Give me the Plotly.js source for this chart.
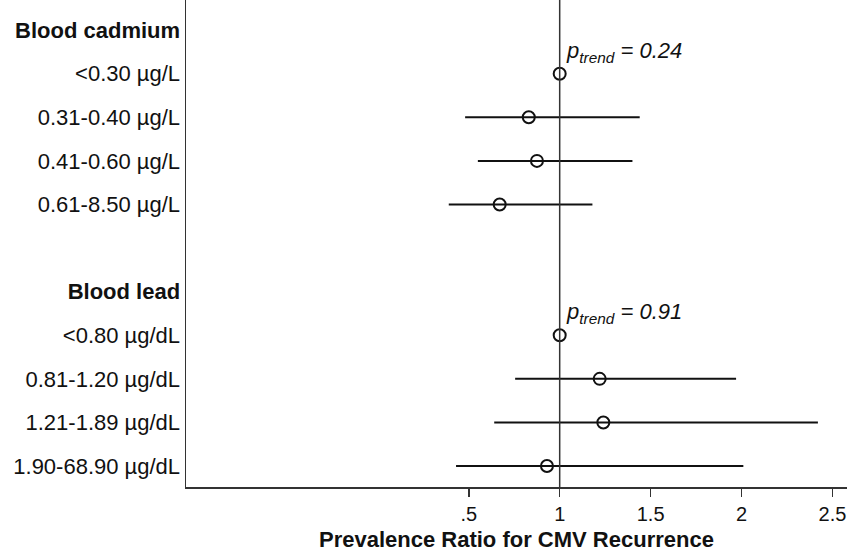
<!DOCTYPE html>
<html>
<head>
<meta charset="utf-8">
<script src="https://cdn.plot.ly/plotly-3.0.1.min.js"></script>
<style>html,body{margin:0;padding:0;background:#fff;}#chart{width:847px;height:552px;}</style>
</head>
<body>
<div id="chart"></div>
<script>
// Row labels (top to bottom)
const rowLabels = ["<b>Blood cadmium</b>", "<0.30 µg/L", "0.31-0.40 µg/L", "0.41-0.60 µg/L", "0.61-8.50 µg/L", "",
                   "<b>Blood lead</b>", "<0.80 µg/dL", "0.81-1.20 µg/dL", "1.21-1.89 µg/dL", "1.90-68.90 µg/dL"];
// Estimates: row index, prevalence ratio, lower CI, upper CI
const estRows  = [1, 2, 3, 4, 7, 8, 9, 10];
const estPR    = [1.00, 0.83, 0.875, 0.67, 1.00, 1.22, 1.24, 0.93];
const estLower = [1.00, 0.48, 0.55, 0.39, 1.00, 0.755, 0.64, 0.43];
const estUpper = [1.00, 1.44, 1.40, 1.18, 1.00, 1.97, 2.42, 2.01];
// Trend p-values, placed near the reference row of each group
const trendRows = [1, 7];
const trendP = ["0.24", "0.91"];
const xTickVals = [0.5, 1, 1.5, 2, 2.5];
const xTickText = [".5", "1", "1.5", "2", "2.5"];
const xTitle = "Prevalence Ratio for CMV Recurrence";

const rowIdx = rowLabels.map((_, i) => i);
const FONT = "Liberation Sans, Arial, sans-serif";

const trace = {
  type: "scatter",
  mode: "markers",
  x: estPR,
  y: estRows,
  marker: {symbol: "circle-open", size: 12, color: "#111", line: {width: 2, color: "#111"}},
  error_x: {
    type: "data", symmetric: false,
    array: estUpper.map((u, i) => u - estPR[i]),
    arrayminus: estLower.map((l, i) => estPR[i] - l),
    width: 0, thickness: 2, color: "#111"
  },
  showlegend: false,
  hoverinfo: "x+y"
};

const annotations = trendRows.map((r, i) => ({
  x: 1, y: r - 0.5, xref: "x", yref: "y",
  text: "<i>p<sub>trend</sub> = " + trendP[i] + "</i>",
  showarrow: false, xanchor: "left", yanchor: "middle", xshift: 4,
  font: {family: FONT, size: 22, color: "#111"}
}));
// x-axis title drawn as a paper annotation so it sits fully inside the page
annotations.push({
  x: 0.5, y: 0, xref: "paper", yref: "paper",
  text: "<b>" + xTitle + "</b>",
  showarrow: false, xanchor: "center", yanchor: "middle", yshift: -52,
  font: {family: FONT, size: 22, color: "#111"}
});

const layout = {
  width: 847, height: 552,
  margin: {l: 186, r: 0, t: 0, b: 65},
  paper_bgcolor: "#fff", plot_bgcolor: "#fff",
  font: {family: FONT, size: 22, color: "#111"},
  xaxis: {
    range: [-1.055, 2.58],
    tickmode: "array", tickvals: xTickVals, ticktext: xTickText,
    ticks: "outside", ticklen: 8, tickwidth: 1.5, tickcolor: "#333",
    ticklabeloverflow: "allow",
    showline: true, linecolor: "#333", linewidth: 1.5,
    showgrid: false, zeroline: false,
    tickfont: {family: FONT, size: 20, color: "#111"}
  },
  yaxis: {
    range: [10.48, -0.69],
    tickmode: "array", tickvals: rowIdx, ticktext: rowLabels,
    ticks: "", showline: true, linecolor: "#333", linewidth: 1.5,
    showgrid: false, zeroline: false,
    tickfont: {family: FONT, size: 22, color: "#111"}
  },
  shapes: [{
    type: "line", xref: "x", yref: "paper", x0: 1, x1: 1, y0: 0, y1: 1,
    line: {color: "#333", width: 1.5}
  }],
  annotations: annotations
};

Plotly.newPlot("chart", [trace], layout, {displayModeBar: false, staticPlot: true});
</script>
</body>
</html>
